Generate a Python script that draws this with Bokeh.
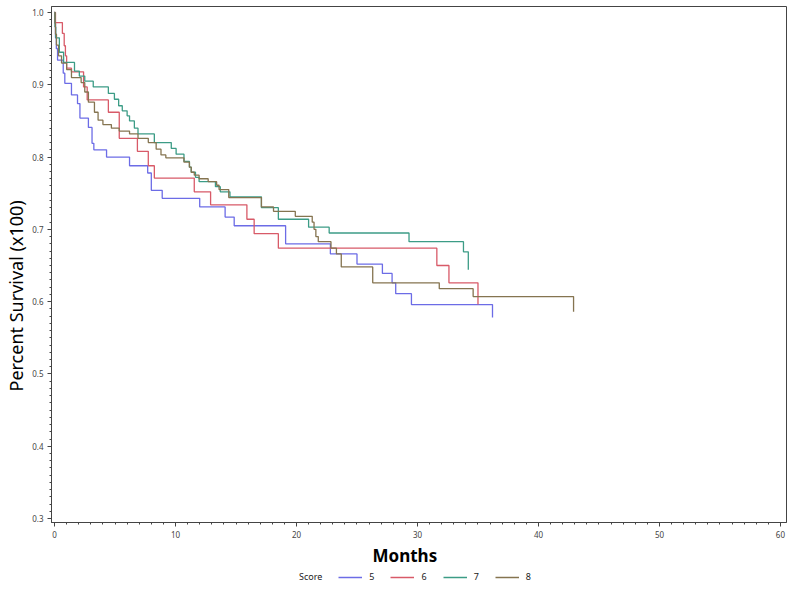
from bokeh.plotting import figure
from bokeh.layouts import column
from bokeh.models import (Range1d, SingleIntervalTicker, PrintfTickFormatter, Legend, LegendItem,
                          Title)
from bokeh.embed import file_html
from bokeh.resources import INLINE

# ---- data ----
score_labels = ["5", "6", "7", "8"]

t5 = [0, 0.04, 0.08, 0.15, 0.25, 0.72, 0.85, 1.4, 1.9, 2.1, 2.8, 3.1, 3.25, 4.3, 6.2, 7.7, 8.0, 8.9,
      12.0, 14.1, 14.85, 19.1, 22.8, 25.0, 27.1, 27.9, 28.2, 29.5, 36.2]
s5 = [1.0, 0.985, 0.965, 0.95, 0.934, 0.916, 0.902, 0.886, 0.874, 0.854, 0.841, 0.819, 0.810, 0.800,
      0.788, 0.778, 0.754, 0.743, 0.731, 0.717, 0.705, 0.680, 0.666, 0.652, 0.639, 0.626, 0.611, 0.596, 0.578]

t6 = [0, 0.08, 0.65, 0.8, 0.9, 1.0, 1.4, 2.4, 2.7, 4.45, 5.35, 6.85, 7.75, 8.25, 11.55, 12.9, 15.9,
      16.5, 18.5, 31.6, 32.6, 35.0]
s6 = [1.0, 0.986, 0.971, 0.954, 0.94, 0.923, 0.918, 0.897, 0.879, 0.862, 0.826, 0.808, 0.788, 0.771,
      0.752, 0.734, 0.714, 0.694, 0.674, 0.650, 0.626, 0.596]

t7 = [0, 0.04, 0.1, 0.4, 0.75, 1.65, 2.05, 2.5, 3.2, 4.45, 4.95, 5.3, 5.6, 6.0, 6.2, 6.6, 6.9, 8.25,
      9.65, 10.05, 10.7, 11.15, 11.3, 11.65, 11.95, 13.3, 13.7, 14.5, 17.1, 18.5, 21.0, 22.7, 29.3,
      33.8, 34.2]
s7 = [1.0, 0.98, 0.965, 0.945, 0.931, 0.919, 0.912, 0.905, 0.897, 0.888, 0.880, 0.871, 0.864, 0.857,
      0.850, 0.840, 0.832, 0.820, 0.812, 0.804, 0.794, 0.786, 0.779, 0.772, 0.766, 0.759, 0.752, 0.745,
      0.730, 0.714, 0.703, 0.695, 0.683, 0.669, 0.644]

t8 = [0, 0.04, 0.08, 0.16, 0.33, 0.58, 1.0, 1.4, 2.2, 2.5, 2.8, 3.3, 3.6, 4.0, 4.7, 5.35, 6.2, 6.9,
      7.75, 8.4, 8.8, 9.2, 10.7, 11.15, 11.3, 11.55, 11.95, 12.7, 13.4, 13.6, 14.4, 17.1, 18.1, 19.9,
      21.3, 21.45, 21.6, 21.8, 22.85, 23.3, 23.7, 26.3, 31.8, 34.6, 42.9]
s8 = [1.0, 0.985, 0.97, 0.955, 0.94, 0.93, 0.921, 0.91, 0.903, 0.89, 0.876, 0.862, 0.851, 0.845,
      0.84, 0.836, 0.832, 0.826, 0.82, 0.811, 0.803, 0.799, 0.793, 0.786, 0.779, 0.775, 0.77, 0.766,
      0.761, 0.755, 0.744, 0.731, 0.725, 0.718, 0.71, 0.70, 0.69, 0.683, 0.674, 0.666, 0.648, 0.626,
      0.618, 0.607, 0.586]

x_ticks_interval = 10
y_ticks_interval = 0.1

series = [(t5, s5), (t6, s6), (t7, s7), (t8, s8)]
colors = ["#6C6CE6", "#D85A68", "#3C9C86", "#857450"]

FONT = "Noto Sans"

p = figure(width=792, height=568, output_backend="svg", toolbar_location=None,
           x_range=Range1d(-0.25, 60.5), y_range=Range1d(0.2945, 1.0083),
           min_border_left=50, min_border_right=6, min_border_top=6, min_border_bottom=44)

p.xgrid.visible = False
p.ygrid.visible = False
p.outline_line_color = "#444444"
p.outline_line_width = 1

for (t, s), c in zip(series, colors):
    p.step(x=t, y=s, mode="after", line_color=c, line_width=1.3)

# axes
xa = p.xaxis[0]
xa.ticker = SingleIntervalTicker(interval=x_ticks_interval, num_minor_ticks=10)
ya = p.yaxis[0]
ya.ticker = SingleIntervalTicker(interval=y_ticks_interval, num_minor_ticks=10)
ya.formatter = PrintfTickFormatter(format="%.1f")

for ax in (xa, ya):
    ax.axis_line_color = "#444444"
    ax.major_tick_line_color = "#444444"
    ax.minor_tick_line_color = "#444444"
    ax.major_tick_out = 4
    ax.major_tick_in = 0
    ax.minor_tick_out = 2
    ax.minor_tick_in = 0
    ax.major_label_text_font = FONT
    ax.major_label_text_font_size = "8px"
    ax.major_label_text_color = "#444444"
    ax.major_label_standoff = 4

p.add_layout(Title(text="Months", align="left", offset=321, standoff=3,
                   text_font=FONT, text_font_size="17px", text_font_style="bold",
                   text_color="#000000"), "below")
p.add_layout(Title(text="Percent Survival (x100)", align="left", offset=131, standoff=3,
                   text_font=FONT, text_font_size="18px", text_font_style="normal",
                   text_color="#000000"), "left")

# ---- legend strip below the chart (its series sit outside its visible range) ----
lg = figure(width=792, height=18, output_backend="svg", toolbar_location=None,
            x_range=Range1d(0, 1), y_range=Range1d(2, 3), x_axis_type=None, y_axis_type=None,
            min_border_left=0, min_border_right=0, min_border_top=0, min_border_bottom=0)
lg.outline_line_color = None
dummy = lg.step(x=t5, y=s5, mode="after", line_alpha=0)
items = [LegendItem(label="Score", renderers=[dummy])]
for lab, (t, s), c in zip(score_labels, series, colors):
    r = lg.step(x=t, y=s, mode="after", line_color=c, line_width=1.5)
    items.append(LegendItem(label=lab, renderers=[r]))

legend = Legend(items=items, orientation="horizontal", location=(217, 3),
                glyph_width=24, glyph_height=10, label_height=10, label_width=4,
                label_standoff=7, spacing=16, padding=0, margin=0,
                border_line_alpha=0, background_fill_alpha=0,
                label_text_font=FONT, label_text_font_size="9px", label_text_color="#222222")
lg.add_layout(legend, "center")

layout = column(p, lg, spacing=0)
open("out.html", "w").write(file_html(layout, INLINE))
